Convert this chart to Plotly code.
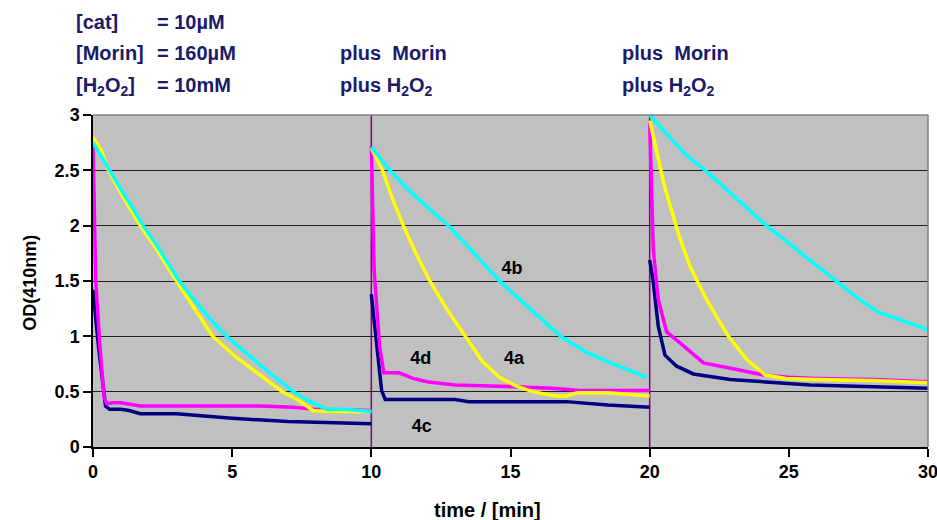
import plotly.graph_objects as go

# ---- data (time in min, OD at 410 nm); None separates the three runs ----
cyan_x = [0, 0.3, 0.6, 1.0, 1.4, 1.8, 2.3, 2.7, 3.1, 3.6, 4.2, 4.8, 5.5, 6.3, 7.2, 7.8, 8.4, 9.0, 10, None,
          10, 10.3, 10.67, 11.3, 12.0, 12.77, 13.7, 14.6, 15.7, 16.8, 17.7, 18.6, 19.9, None,
          20, 20.6, 21.3, 22.0, 23.0, 24.2, 25.4, 26.7, 27.5, 28.2, 29.0, 30]
cyan_y = [2.75, 2.62, 2.5, 2.33, 2.17, 2.0, 1.82, 1.66, 1.5, 1.34, 1.16, 1.0, 0.85, 0.68, 0.5, 0.41, 0.34, 0.34, 0.32, None,
          2.71, 2.62, 2.5, 2.33, 2.17, 2.0, 1.75, 1.5, 1.25, 1.0, 0.86, 0.76, 0.63, None,
          3.0, 2.83, 2.64, 2.5, 2.27, 2.0, 1.76, 1.5, 1.34, 1.22, 1.15, 1.06]

yellow_x = [0, 0.3, 0.55, 1.1, 1.7, 2.3, 3.0, 3.6, 4.3, 5.1, 5.9, 6.8, 7.4, 7.9, 8.5, 10, None,
            10, 10.4, 10.75, 11.15, 11.6, 12.1, 12.7, 13.37, 14.0, 14.6, 15.2, 15.8, 16.6, 17.0, 17.4, 18.5, 20, None,
            20, 20.37, 20.55, 21.03, 21.45, 22.05, 22.83, 23.49, 24.15, 24.9, 26, 28, 30]
yellow_y = [2.8, 2.68, 2.5, 2.25, 2.0, 1.78, 1.5, 1.27, 1.0, 0.82, 0.67, 0.5, 0.42, 0.33, 0.32, 0.32, None,
            2.7, 2.5, 2.25, 2.0, 1.75, 1.5, 1.25, 1.0, 0.77, 0.63, 0.55, 0.5, 0.46, 0.46, 0.49, 0.49, 0.46, None,
            2.95, 2.53, 2.34, 1.93, 1.63, 1.33, 1.0, 0.79, 0.65, 0.62, 0.61, 0.6, 0.58]

magenta_x = [0, 0.05, 0.1, 0.25, 0.4, 0.5, 0.7, 1.0, 1.7, 4, 6, 7.2, 8.0, 10, None,
             10, 10.1, 10.3, 10.45, 11.0, 11.5, 12.0, 13.0, 14.6, 16.5, 17.5, 20, None,
             20, 20.08, 20.13, 20.31, 20.61, 21.09, 21.93, 23.13, 24.08, 25, 26, 28, 30]
magenta_y = [2.72, 2.1, 1.5, 0.9, 0.45, 0.39, 0.40, 0.40, 0.37, 0.37, 0.37, 0.36, 0.34, 0.33, None,
             2.72, 1.6, 0.9, 0.67, 0.67, 0.62, 0.59, 0.56, 0.55, 0.53, 0.51, 0.51, None,
             2.95, 2.23, 1.78, 1.33, 1.04, 0.94, 0.76, 0.70, 0.65, 0.63, 0.62, 0.61, 0.59]

navy_x = [0, 0.2, 0.45, 0.6, 1.0, 1.3, 1.7, 3.0, 5, 7, 10, None,
          10, 10.2, 10.37, 10.5, 11.5, 13.0, 13.5, 17.0, 18.5, 20, None,
          20, 20.12, 20.31, 20.55, 20.97, 21.57, 22.89, 25.77, 30]
navy_y = [1.42, 0.9, 0.37, 0.34, 0.34, 0.33, 0.30, 0.30, 0.26, 0.23, 0.21, None,
          1.38, 0.9, 0.51, 0.43, 0.43, 0.43, 0.41, 0.41, 0.38, 0.36, None,
          1.69, 1.51, 1.09, 0.83, 0.73, 0.66, 0.61, 0.56, 0.53]

curve_labels = ["4b", "4d", "4a", "4c"]
label_x = [15.05, 11.78, 15.13, 11.81]
label_y = [1.6, 0.79, 0.79, 0.18]

addition_times = [10, 20]
x_ticks = [0, 5, 10, 15, 20, 25, 30]
y_ticks = [0, 0.5, 1, 1.5, 2, 2.5, 3]
y_tick_text = ["0", "0.5", "1", "1.5", "2", "2.5", "3"]

FONT = "Arial, Liberation Sans, sans-serif"
NAVY_TXT = "#1b1b6b"

fig = go.Figure()
for xs, ys, col in [(navy_x, navy_y, "#000080"), (magenta_x, magenta_y, "#ff00ff"),
                    (yellow_x, yellow_y, "#ffff00"), (cyan_x, cyan_y, "#00ffff")]:
    fig.add_trace(go.Scatter(x=xs, y=ys, mode="lines", line=dict(color=col, width=3.5),
                             connectgaps=False, showlegend=False, hoverinfo="skip"))

fig.add_trace(go.Scatter(x=label_x, y=label_y, mode="text", text=curve_labels,
                         textfont=dict(family=FONT, size=18, color="black", weight="bold"),
                         textposition="middle center", showlegend=False, hoverinfo="skip"))

shapes = []
for t in addition_times:
    shapes.append(dict(type="line", xref="x", yref="paper", x0=t, x1=t, y0=0, y1=1,
                       line=dict(color="#800080", width=1.5), layer="between"))
# grey frame on top and right
shapes.append(dict(type="line", xref="paper", yref="paper", x0=0, x1=1, y0=1, y1=1,
                   line=dict(color="#808080", width=1.5)))
shapes.append(dict(type="line", xref="paper", yref="paper", x0=1, x1=1, y0=0, y1=1,
                   line=dict(color="#808080", width=1.5)))

def ann(text, x, y, **kw):
    d = dict(text=text, x=x, y=y, xref="paper", yref="paper", showarrow=False,
             xanchor="left", yanchor="middle",
             font=dict(family=FONT, size=20, color=NAVY_TXT, weight="bold"))
    d.update(kw)
    return d

annotations = [
    ann("[cat]", -0.0228, 1.280),
    ann("= 10µM", 0.0743, 1.280),
    ann("[Morin]", -0.0228, 1.187),
    ann("= 160µM", 0.0743, 1.187),
    ann("[H<sub>2</sub>O<sub>2</sub>]", -0.0228, 1.085),
    ann("= 10mM", 0.0743, 1.090),
    ann("plus&nbsp;&nbsp;Morin", 0.2934, 1.187),
    ann("plus H<sub>2</sub>O<sub>2</sub>", 0.2934, 1.085),
    ann("plus&nbsp;&nbsp;Morin", 0.631, 1.187),
    ann("plus H<sub>2</sub>O<sub>2</sub>", 0.631, 1.085),
    dict(text="time / [min]", x=0.473, y=-0.19, xref="paper", yref="paper",
         showarrow=False, xanchor="center", yanchor="middle",
         font=dict(family=FONT, size=20, color="black", weight="bold")),
    dict(text="OD(410nm)", x=-0.0754, y=0.495, xref="paper", yref="paper",
         showarrow=False, xanchor="center", yanchor="middle", textangle=-90,
         font=dict(family=FONT, size=18, color="black", weight="bold")),
]

fig.update_layout(
    width=937, height=520,
    margin=dict(l=93, r=9, t=115, b=73),
    paper_bgcolor="white", plot_bgcolor="#c0c0c0",
    shapes=shapes, annotations=annotations,
    font=dict(family=FONT, color="black"),
    xaxis=dict(range=[0, 30], tickvals=x_ticks, ticktext=[str(v) for v in x_ticks],
               automargin=False, ticklabeloverflow="allow",
               ticks="outside", ticklen=8, tickwidth=1.5, tickcolor="black",
               showline=True, linecolor="black", linewidth=1.5, showgrid=False, zeroline=False,
               tickfont=dict(family=FONT, size=18, color="black", weight="bold")),
    yaxis=dict(range=[0, 3], tickvals=y_ticks, ticktext=y_tick_text,
               automargin=False, ticklabeloverflow="allow",
               ticks="outside", ticklen=8, tickwidth=1.5, tickcolor="black",
               showline=True, linecolor="black", linewidth=1.5,
               showgrid=True, gridcolor="#202020", gridwidth=1.2, zeroline=False,
               tickfont=dict(family=FONT, size=18, color="black", weight="bold")),
)

fig.write_html("out.html")
